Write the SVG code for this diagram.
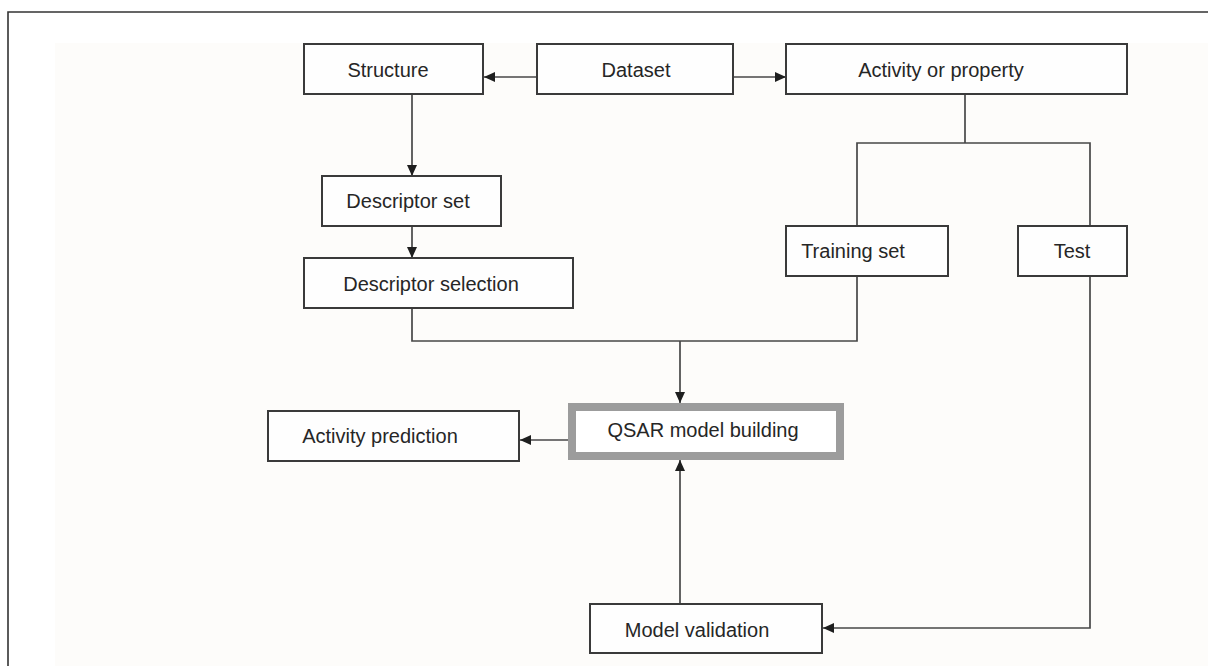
<svg xmlns="http://www.w3.org/2000/svg" width="1208" height="666" viewBox="0 0 1208 666">
<style>
.box{fill:#fefefe;stroke:#3a3a3a;stroke-width:2}
.lbl{font-family:"Liberation Sans",Arial,sans-serif;font-size:20px;fill:#262626;text-anchor:middle}
.con{fill:none;stroke:#474747;stroke-width:1.7}
</style>
<defs>
<marker id="arr" markerUnits="userSpaceOnUse" markerWidth="12" markerHeight="10" refX="11" refY="5" orient="auto">
<path d="M0,0 L11,5 L0,10 Z" fill="#1e1e1e"/>
</marker>
</defs>
<rect width="1208" height="666" fill="#ffffff"/>
<rect x="55" y="43" width="1153" height="623" fill="#fdfcfa"/>
<path d="M8,666 V12 H1208" fill="none" stroke="#333" stroke-width="1.6"/>

<g id="connectors">
<line class="con" x1="537" y1="77" x2="484" y2="77" marker-end="url(#arr)"/>
<line class="con" x1="733" y1="77" x2="786" y2="77" marker-end="url(#arr)"/>
<line class="con" x1="412" y1="94" x2="412" y2="176" marker-end="url(#arr)"/>
<line class="con" x1="412" y1="226" x2="412" y2="258" marker-end="url(#arr)"/>
<path class="con" d="M412,308 V341 H857 V276"/>
<line class="con" x1="680" y1="341" x2="680" y2="403" marker-end="url(#arr)"/>
<path class="con" d="M965,94 V143"/>
<path class="con" d="M857,226 V143 H1090 V226"/>
<path class="con" d="M1090,276 V628 H823" marker-end="url(#arr)"/>
<line class="con" x1="680" y1="604" x2="680" y2="460" marker-end="url(#arr)"/>
<line class="con" x1="568" y1="440" x2="520" y2="440" marker-end="url(#arr)"/>
</g>

<g id="structure"><rect class="box" x="304" y="44" width="179" height="50"/><text class="lbl" x="388" y="77">Structure</text></g>
<g id="dataset"><rect class="box" x="537" y="44" width="196" height="50"/><text class="lbl" x="636" y="77">Dataset</text></g>
<g id="activity"><rect class="box" x="786" y="44" width="341" height="50"/><text class="lbl" x="941" y="77">Activity or property</text></g>
<g id="descriptor-set"><rect class="box" x="322" y="176" width="179" height="50"/><text class="lbl" x="408" y="208">Descriptor set</text></g>
<g id="descriptor-selection"><rect class="box" x="304" y="258" width="269" height="50"/><text class="lbl" x="431" y="291">Descriptor selection</text></g>
<g id="training-set"><rect class="box" x="786" y="226" width="162" height="50"/><text class="lbl" x="853" y="258">Training set</text></g>
<g id="test"><rect class="box" x="1018" y="226" width="109" height="50"/><text class="lbl" x="1072" y="258">Test</text></g>
<g id="qsar"><rect x="572" y="407" width="268" height="49" fill="#ffffff" stroke="#9c9c9c" stroke-width="8"/><text class="lbl" x="703" y="437">QSAR model building</text></g>
<g id="activity-prediction"><rect class="box" x="268" y="411" width="251" height="50"/><text class="lbl" x="380" y="443">Activity prediction</text></g>
<g id="model-validation"><rect class="box" x="590" y="604" width="232" height="49"/><text class="lbl" x="697" y="637">Model validation</text></g>
</svg>
